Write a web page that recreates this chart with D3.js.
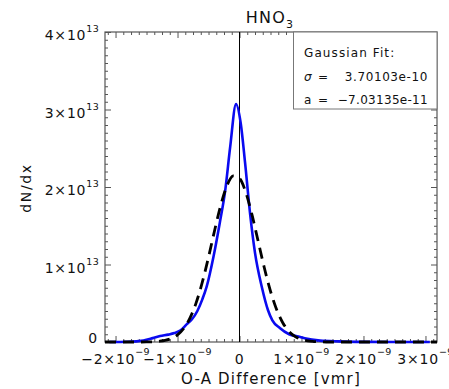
<!DOCTYPE html>
<html>
<head>
<meta charset="utf-8">
<script src="https://cdn.jsdelivr.net/npm/d3@7"></script>
<style>
  html, body { margin: 0; padding: 0; background: #fff; }
  svg { display: block; }
  text { font-family: "DejaVu Sans", sans-serif; fill: #111; }
</style>
</head>
<body>
<svg id="chart" width="449" height="389"></svg>
<script>
// ---- data (x in units of 1e-9 vmr, y in units of 1e13) ----
const title = "HNO";
const titleSub = "3";
const xLabel = "O-A Difference [vmr]";
const yLabel = "dN/dx";
const xDomain = [-2.17e-9, 3.186e-9];
const yDomain = [0, 4e13];
const xTickValues = [-2e-9, -1e-9, 0, 1e-9, 2e-9, 3e-9];
const xTickMantissa = ["\u22122", "\u22121", "0", "1", "2", "3"];
const yTickValues = [0, 1e13, 2e13, 3e13, 4e13];
const yTickMantissa = ["0", "1", "2", "3", "4"];
const legendTitle = "Gaussian Fit:";
const legendSigma = "3.70103e-10";
const legendA = "\u22127.03135e-11";

// observed distribution (blue)
const obsX = [-2.10, -1.80, -1.55, -1.40, -1.28, -1.15, -1.05, -0.95, -0.85, -0.77, -0.68, -0.60, -0.53, -0.42, -0.32, -0.23, -0.15, -0.056, 0.02, 0.09, 0.17, 0.25, 0.36, 0.46, 0.53, 0.65, 0.80, 0.95, 1.05, 1.30, 1.60, 2.00, 2.50, 3.07];
const obsY = [0, 0.003, 0.02, 0.05, 0.077, 0.095, 0.115, 0.15, 0.23, 0.29, 0.40, 0.55, 0.714, 1.10, 1.53, 1.96, 2.52, 3.07, 2.82, 2.31, 1.66, 1.15, 0.71, 0.41, 0.28, 0.18, 0.10, 0.07, 0.048, 0.018, 0.008, 0.002, 0, 0];

// gaussian fit (dashed black)
const fitX = [-2.17, -1.6, -1.5, -1.4, -1.3, -1.2, -1.1, -1.0, -0.9, -0.8, -0.7, -0.6, -0.5, -0.4, -0.3, -0.2, -0.1, 0.0, 0.1, 0.2, 0.3, 0.4, 0.5, 0.6, 0.7, 0.8, 0.9, 1.0, 1.1, 1.2, 1.3, 1.4, 3.186];
const fitY = [0, 0, 0.001, 0.003, 0.009, 0.020, 0.045, 0.092, 0.174, 0.307, 0.505, 0.772, 1.095, 1.445, 1.773, 2.022, 2.143, 2.112, 1.934, 1.646, 1.303, 0.958, 0.655, 0.417, 0.246, 0.135, 0.069, 0.033, 0.014, 0.006, 0.002, 0, 0];

// ---- layout ----
const L = 105, R = 437, T = 32, B = 342;
const svg = d3.select("#chart");
const x = d3.scaleLinear().domain(xDomain).range([L, R]);
const y = d3.scaleLinear().domain(yDomain).range([B, T]);
const axisColor = "#555";

// minor ticks
const xMinor = d3.range(Math.ceil(xDomain[0] / 0.125e-9), Math.floor(xDomain[1] / 0.125e-9) + 1).map(i => i * 0.125e-9);
const yMinor = d3.range(0, 41).map(i => i * 1e12);

const isMajor = (majors, d) => majors.some(m => Math.abs(m - d) <= Math.abs(m) * 1e-6 + 1e-24);

function styleAxis(g, majors, dir) {
  g.select(".domain").remove();
  g.selectAll(".tick line").attr("stroke", axisColor).attr("stroke-width", 1)
    .each(function(d) {
      const len = isMajor(majors, d) ? 6 : 3;
      const sel = d3.select(this);
      if (dir === "h") sel.attr("y2", +sel.attr("y2") < 0 ? -len : len);
      else sel.attr("x2", +sel.attr("x2") < 0 ? -len : len);
    });
}
const axBottom = d3.axisBottom(x).tickValues(xMinor).tickFormat("").tickSizeOuter(0).tickSizeInner(-3);
const axTop = d3.axisTop(x).tickValues(xMinor).tickFormat("").tickSizeOuter(0).tickSizeInner(-3);
const axLeft = d3.axisLeft(y).tickValues(yMinor).tickFormat("").tickSizeOuter(0).tickSizeInner(-3);
const axRight = d3.axisRight(y).tickValues(yMinor).tickFormat("").tickSizeOuter(0).tickSizeInner(-3);
svg.append("g").attr("transform", `translate(0,${B})`).call(axBottom).call(g => styleAxis(g, xTickValues, "h"));
svg.append("g").attr("transform", `translate(0,${T})`).call(axTop).call(g => styleAxis(g, xTickValues, "h"));
svg.append("g").attr("transform", `translate(${L},0)`).call(axLeft).call(g => styleAxis(g, yTickValues, "v"));
svg.append("g").attr("transform", `translate(${R},0)`).call(axRight).call(g => styleAxis(g, yTickValues, "v"));

// frame
svg.append("rect").attr("x", L).attr("y", T).attr("width", R - L).attr("height", B - T)
  .attr("fill", "none").attr("stroke", axisColor).attr("stroke-width", 1.2);

// zero line
svg.append("line").attr("x1", x(0)).attr("x2", x(0)).attr("y1", T).attr("y2", B)
  .attr("stroke", "#000").attr("stroke-width", 1);

// legend box
svg.append("rect").attr("x", 293.5).attr("y", T).attr("width", R - 293.5).attr("height", 77)
  .attr("fill", "#fff").attr("stroke", "#777").attr("stroke-width", 1);
const lg = svg.append("g").style("font-size", "12px");
lg.append("text").attr("x", 304).attr("y", 57).style("letter-spacing", "1.1px").text(legendTitle);
lg.append("text").attr("x", 304).attr("y", 81).style("font-style", "italic").text("\u03c3");
lg.append("text").attr("x", 318).attr("y", 81).text("=");
lg.append("text").attr("x", 428).attr("y", 81).attr("text-anchor", "end").style("letter-spacing", "0.6px").text(legendSigma);
lg.append("text").attr("x", 304).attr("y", 104).text("a");
lg.append("text").attr("x", 318).attr("y", 104).text("=");
lg.append("text").attr("x", 428).attr("y", 104).attr("text-anchor", "end").style("letter-spacing", "0.3px").text(legendA);

// curves
const obs = obsX.map((v, i) => [v * 1e-9, obsY[i] * 1e13]);
const fit = fitX.map((v, i) => [v * 1e-9, fitY[i] * 1e13]);
const line = d3.line().x(d => x(d[0])).y(d => y(d[1])).curve(d3.curveMonotoneX);

svg.append("path").datum(obs).attr("d", line).attr("fill", "none")
  .attr("stroke", "#0a0af0").attr("stroke-width", 2.6).attr("stroke-linejoin", "round");
svg.append("path").datum(fit).attr("d", line).attr("fill", "none")
  .attr("stroke", "#000").attr("stroke-width", 2.8).attr("stroke-dasharray", "11,7");

// y tick labels
const yl = svg.append("g").style("font-size", "14px").style("letter-spacing", "0.8px");
yTickValues.forEach((v, i) => {
  if (v === 0) {
    yl.append("text").attr("x", 98).attr("y", y(v) + 1).attr("text-anchor", "end").text(yTickMantissa[i]);
  } else {
    const t = yl.append("text").attr("x", 99).attr("y", y(v) + 8).attr("text-anchor", "end");
    t.append("tspan").text(yTickMantissa[i] + "\u00d710");
    t.append("tspan").attr("dy", -8).style("font-size", "9.5px").style("letter-spacing", "0.3px").text("13");
  }
});

// x tick labels
const xl = svg.append("g").style("font-size", "14px").style("letter-spacing", "0.8px");
xTickValues.forEach((v, i) => {
  const t = xl.append("text").attr("x", x(v)).attr("y", 364).attr("text-anchor", "middle");
  if (v === 0) { t.text("0"); return; }
  t.append("tspan").text(xTickMantissa[i] + "\u00d710");
  t.append("tspan").attr("dy", -9).style("font-size", "9.5px").style("letter-spacing", "0.3px").text("\u22129");
});

// axis titles
svg.append("text").attr("x", 271).attr("y", 384).attr("text-anchor", "middle")
  .style("font-size", "15px").style("letter-spacing", "1.2px").text(xLabel);
svg.append("text").attr("transform", "translate(31,188) rotate(-90)").attr("text-anchor", "middle")
  .style("font-size", "14px").style("letter-spacing", "1.6px").text(yLabel);

// title
const tt = svg.append("text").attr("x", 270).attr("y", 23).attr("text-anchor", "middle")
  .style("font-size", "16px").style("letter-spacing", "1.2px");
tt.append("tspan").text(title);
tt.append("tspan").attr("dy", 5).style("font-size", "11px").text(titleSub);
</script>
</body>
</html>
